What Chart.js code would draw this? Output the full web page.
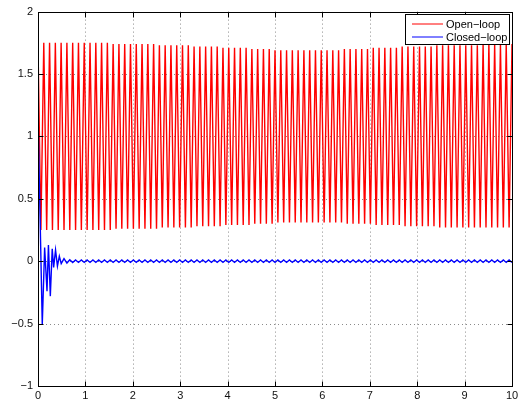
<!DOCTYPE html>
<html>
<head>
<meta charset="utf-8">
<script src="https://cdn.jsdelivr.net/npm/chart.js@4/dist/chart.umd.min.js"></script>
<style>
  html, body { margin: 0; padding: 0; background: #fff; }
  #wrap { width: 526px; height: 403px; }
</style>
</head>
<body>
<div id="wrap"><canvas id="c" width="526" height="403"></canvas></div>
<script>
// Open-loop response: successive crest and trough values, one crest/trough every half cycle
const openPeaks = [
  1.73,
  1.75, 1.75, 1.75, 1.75, 1.75, 1.75, 1.75, 1.75, 1.75, 1.75, 1.75, 1.75,
  1.74, 1.74, 1.74, 1.74, 1.74, 1.74, 1.74, 1.74,
  1.73, 1.73, 1.73, 1.73, 1.73, 1.73,
  1.72, 1.72, 1.72, 1.72, 1.72,
  1.71, 1.71, 1.71, 1.71, 1.71,
  1.70, 1.70, 1.70, 1.70,
  1.69, 1.69, 1.69, 1.69, 1.69, 1.69, 1.69, 1.69, 1.69, 1.69, 1.69, 1.69,
  1.70, 1.70, 1.70, 1.70, 1.70,
  1.71, 1.71, 1.71, 1.71, 1.71,
  1.72, 1.72, 1.72, 1.72, 1.72, 1.72,
  1.73, 1.73, 1.73, 1.73, 1.73, 1.73, 1.73, 1.73,
  1.74, 1.74, 1.74, 1.74, 1.74, 1.74
];
const openTroughs = [
  0.25, 0.25, 0.25, 0.25, 0.25, 0.25, 0.25, 0.25, 0.25, 0.25, 0.25, 0.25, 0.25,
  0.26, 0.26, 0.26, 0.26, 0.26, 0.26, 0.26, 0.26,
  0.27, 0.27, 0.27, 0.27, 0.27, 0.27,
  0.28, 0.28, 0.28, 0.28, 0.28,
  0.29, 0.29, 0.29, 0.29, 0.29,
  0.30, 0.30, 0.30, 0.30,
  0.31, 0.31, 0.31, 0.31, 0.31, 0.31, 0.31, 0.31, 0.31, 0.31, 0.31, 0.31,
  0.30, 0.30, 0.30, 0.30, 0.30,
  0.29, 0.29, 0.29, 0.29, 0.29,
  0.28, 0.28, 0.28, 0.28, 0.28, 0.28,
  0.27, 0.27, 0.27, 0.27, 0.27, 0.27, 0.27, 0.27, 0.27, 0.27, 0.27, 0.27, 0.27
];

// Closed-loop response: initial transient (time, value) then the residual ripple
const closedTransientT = [0, 0.09, 0.14, 0.19, 0.22, 0.26, 0.30, 0.33, 0.37, 0.41, 0.45, 0.49];
const closedTransientY = [1.17, -0.51, 0.11, -0.24, 0.13, -0.28, 0.10, -0.05, 0.09, -0.04, 0.04, -0.02];
const closedRipple = [
  0.02, -0.015, 0.012, -0.01,
  0.01, -0.01, 0.01, -0.01, 0.01, -0.01, 0.01, -0.01, 0.01, -0.01, 0.01, -0.01, 0.01, -0.01, 0.01, -0.01, 0.01, -0.01, 0.01, -0.01,
  0.01, -0.01, 0.01, -0.01, 0.01, -0.01, 0.01, -0.01, 0.01, -0.01, 0.01, -0.01, 0.01, -0.01, 0.01, -0.01, 0.01, -0.01, 0.01, -0.01,
  0.01, -0.01, 0.01, -0.01, 0.01, -0.01, 0.01, -0.01, 0.01, -0.01, 0.01, -0.01, 0.01, -0.01, 0.01, -0.01, 0.01, -0.01, 0.01, -0.01,
  0.01, -0.01, 0.01, -0.01, 0.01, -0.01, 0.01, -0.01, 0.01, -0.01, 0.01, -0.01, 0.01, -0.01, 0.01, -0.01, 0.01, -0.01, 0.01, -0.01,
  0.01, -0.01, 0.01, -0.01, 0.01, -0.01, 0.01, -0.01, 0.01, -0.01, 0.01, -0.01, 0.01, -0.01, 0.01, -0.01, 0.01, -0.01, 0.01, -0.01,
  0.01, -0.01, 0.01, -0.01, 0.01, -0.01, 0.01, -0.01, 0.01, -0.01, 0.01, -0.01, 0.01, -0.01, 0.01, -0.01, 0.01, -0.01, 0.01, -0.01,
  0.01, -0.01, 0.01, -0.01, 0.01, -0.01, 0.01, -0.01, 0.01, -0.01, 0.01, -0.01, 0.01, -0.01, 0.01, -0.01, 0.01, -0.01, 0.01, -0.01,
  0.01, -0.01, 0.01, -0.01, 0.01, -0.01, 0.01, -0.01, 0.01, -0.01, 0.01, -0.01
];

const seriesLabels = ['Open\u2212loop', 'Closed\u2212loop'];
const seriesColors = ['#ff0000', '#0000ff'];
const xTicks = [0, 1, 2, 3, 4, 5, 6, 7, 8, 9, 10];
const yTicks = [-1, -0.5, 0, 0.5, 1, 1.5, 2];

// sampling grid: one sample per half cycle over 0..10 s
const halfCycle = 10 / 164;
const rippleStart = 9;

const openData = [];
for (let k = 0; k <= 164; k++) {
  const y = (k % 2 === 0) ? openPeaks[k / 2] : openTroughs[(k - 1) / 2];
  openData.push({ x: k * halfCycle, y });
}
const closedData = closedTransientT.map((t, i) => ({ x: t, y: closedTransientY[i] }));
closedRipple.forEach((v, i) => closedData.push({ x: (rippleStart + i) * halfCycle, y: v }));

const fmt = v => String(v).replace('-', '\u2212');
const FONT = 'Liberation Sans, Arial, Helvetica, sans-serif';

// dotted grid, inward ticks on all four sides, axes box and legend
const frame = {
  id: 'frame',
  beforeDatasetsDraw(chart) {
    const { ctx, chartArea: a, scales: { x, y } } = chart;
    ctx.save();
    ctx.strokeStyle = '#8a8a8a';
    ctx.lineWidth = 1;
    ctx.setLineDash([1, 3]);
    xTicks.slice(1, -1).forEach(v => {
      const px = Math.round(x.getPixelForValue(v)) + 0.5;
      ctx.beginPath(); ctx.moveTo(px, a.top); ctx.lineTo(px, a.bottom); ctx.stroke();
    });
    yTicks.slice(1, -1).forEach(v => {
      const py = Math.round(y.getPixelForValue(v)) + 0.5;
      ctx.beginPath(); ctx.moveTo(a.left, py); ctx.lineTo(a.right, py); ctx.stroke();
    });
    ctx.restore();
  },
  afterDatasetsDraw(chart) {
    const { ctx, chartArea: a, scales: { x, y } } = chart;
    const L = Math.round(a.left) + 0.5, R = Math.round(a.right) + 0.5;
    const T = Math.round(a.top) + 0.5, B = Math.round(a.bottom) + 0.5;
    ctx.save();
    ctx.strokeStyle = '#000';
    ctx.lineWidth = 1;
    ctx.setLineDash([]);
    const tl = 5;
    xTicks.forEach(v => {
      const px = Math.round(x.getPixelForValue(v)) + 0.5;
      ctx.beginPath();
      ctx.moveTo(px, B); ctx.lineTo(px, B - tl);
      ctx.moveTo(px, T); ctx.lineTo(px, T + tl);
      ctx.stroke();
    });
    yTicks.forEach(v => {
      const py = Math.round(y.getPixelForValue(v)) + 0.5;
      ctx.beginPath();
      ctx.moveTo(L, py); ctx.lineTo(L + tl, py);
      ctx.moveTo(R, py); ctx.lineTo(R - tl, py);
      ctx.stroke();
    });
    ctx.strokeRect(L, T, R - L, B - T);

    // legend
    const bx = 405.5, by = 14.5, bw = 104, bh = 30;
    ctx.fillStyle = '#fff';
    ctx.fillRect(bx, by, bw, bh);
    ctx.strokeRect(bx, by, bw, bh);
    ctx.font = '11px ' + FONT;
    ctx.textBaseline = 'middle';
    ctx.textAlign = 'left';
    chart.data.datasets.forEach((ds, i) => {
      const ly = by + 9.5 + i * 13;
      ctx.strokeStyle = ds.borderColor;
      ctx.beginPath(); ctx.moveTo(412, ly); ctx.lineTo(443, ly); ctx.stroke();
      ctx.fillStyle = '#000';
      ctx.fillText(ds.label, 446, ly + 0.5);
    });
    ctx.restore();
  }
};

new Chart(document.getElementById('c'), {
  type: 'line',
  data: {
    datasets: [
      { label: seriesLabels[0], data: openData, borderColor: seriesColors[0], borderWidth: 1.4, pointRadius: 0, tension: 0, fill: false, order: 1 },
      { label: seriesLabels[1], data: closedData, borderColor: seriesColors[1], borderWidth: 1.4, pointRadius: 0, tension: 0, fill: false, order: 0 }
    ]
  },
  options: {
    responsive: false,
    animation: false,
    layout: { padding: { top: 11, right: 14, left: 0, bottom: 0 } },
    plugins: { legend: { display: false }, tooltip: { enabled: false } },
    scales: {
      x: {
        type: 'linear', min: 0, max: 10,
        afterBuildTicks: s => { s.ticks = xTicks.map(v => ({ value: v })); },
        afterFit: s => { s.height = 17; },
        grid: { display: false, drawTicks: false },
        border: { display: false },
        ticks: { color: '#111', font: { family: FONT, size: 11 }, padding: 3, maxRotation: 0, autoSkip: false, callback: fmt }
      },
      y: {
        type: 'linear', min: -1, max: 2,
        afterBuildTicks: s => { s.ticks = yTicks.map(v => ({ value: v })); },
        afterFit: s => { s.width = 38; },
        grid: { display: false, drawTicks: false },
        border: { display: false },
        ticks: { color: '#111', font: { family: FONT, size: 11 }, padding: 5, autoSkip: false, callback: fmt }
      }
    }
  },
  plugins: [frame]
});
</script>
</body>
</html>
